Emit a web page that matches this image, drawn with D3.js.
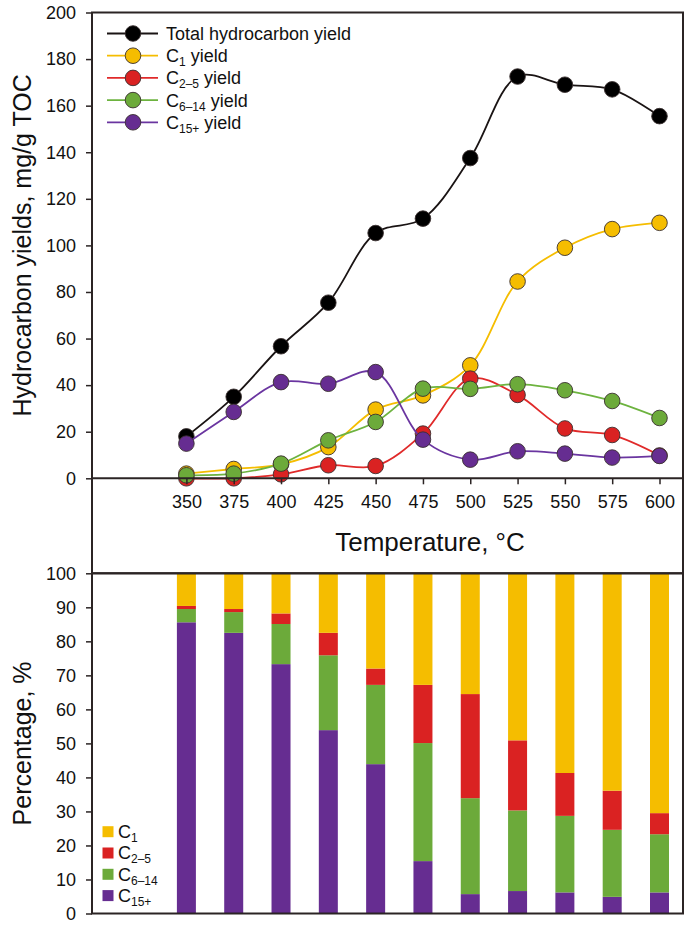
<!DOCTYPE html>
<html>
<head>
<meta charset="utf-8">
<script src="https://cdn.jsdelivr.net/npm/d3@7"></script>
<style>
  html, body { margin: 0; padding: 0; background: #fff; }
  svg { display: block; font-family: "Liberation Sans", Arial, sans-serif; }
</style>
</head>
<body>
<svg id="chart" width="685" height="927"></svg>
<script>
// ---------- DATA ----------
const temperatures = [350, 375, 400, 425, 450, 475, 500, 525, 550, 575, 600];
const yieldTicks = [0, 20, 40, 60, 80, 100, 120, 140, 160, 180, 200];
const percentTicks = [0, 10, 20, 30, 40, 50, 60, 70, 80, 90, 100];

// Yields, mg/g TOC
const totalYield = [18, 35, 56.7, 75.4, 105.3, 111.5, 137.5, 172.5, 169, 167, 155.5];
const c1Yield    = [2, 4, 6, 13.4, 29.5, 35.6, 48.5, 84.5, 99, 107, 109.7];
const c25Yield   = [0, 0, 1.7, 5.6, 5.3, 19.2, 42.8, 35.8, 21.4, 18.6, 9.8];
const c614Yield  = [1.3, 2, 6.3, 16.3, 24.2, 38.5, 38.4, 40.4, 37.8, 33.2, 25.9];
const c15Yield   = [14.9, 28.5, 41.3, 40.6, 45.6, 16.6, 8, 11.6, 10.6, 8.9, 9.6];

// Percentages, %
const c1Pct   = [9.6, 10.5, 11.8, 17.5, 28.0, 32.8, 35.5, 49.1, 58.7, 63.9, 70.5];
const c25Pct  = [0.9, 0.9, 3.1, 6.6, 4.8, 17.1, 30.6, 20.6, 12.6, 11.5, 6.2];
const c614Pct = [3.9, 6.1, 11.8, 22.0, 23.3, 34.7, 28.2, 23.7, 22.5, 19.7, 17.1];
const c15Pct  = [85.6, 82.5, 73.3, 53.9, 43.9, 15.4, 5.7, 6.6, 6.2, 4.9, 6.2];

// ---------- STYLE / LAYOUT ----------
const axisColor = "#2b2424";
const colTotal = "#000000", colC1 = "#F5BD00", colC25 = "#DA2222", colC614 = "#6CAA3A", colC15 = "#662D91";
const lineC1 = "#F5BD00", lineC25 = "#E02A2A", lineC614 = "#6DB33F", lineC15 = "#6A35A0";

const L = 92, R = 683, T = 12.5, Z = 478.3, S = 573.3, B = 913.5;

const svg = d3.select("#chart");
const x = d3.scaleLinear().domain([350, 600]).range([186.4, 659.5]);
const yTop = d3.scaleLinear().domain([0, 200]).range([Z, T]);
const yBot = d3.scaleLinear().domain([0, 100]).range([B, S]);

// ---------- BOTTOM BARS ----------
const barW = 19;
const stackKeys = ["c15", "c614", "c25", "c1"];
const stackColors = { c15: colC15, c614: colC614, c25: colC25, c1: colC1 };
const table = temperatures.map((t, i) => ({ t, c15: c15Pct[i], c614: c614Pct[i], c25: c25Pct[i], c1: c1Pct[i] }));
const stacked = d3.stack().keys(stackKeys)(table);
const gBars = svg.append("g");
stacked.forEach(layer => {
  gBars.selectAll(null).data(layer).enter().append("rect")
    .attr("x", d => x(d.data.t) - barW / 2)
    .attr("width", barW)
    .attr("y", d => yBot(Math.min(d[1], 100)))
    .attr("height", d => yBot(d[0]) - yBot(Math.min(d[1], 100)))
    .attr("fill", stackColors[layer.key]);
});

// ---------- TOP LINES ----------
const series = [
  { vals: totalYield, fill: colTotal, line: "#1a1414" },
  { vals: c1Yield, fill: colC1, line: lineC1 },
  { vals: c25Yield, fill: colC25, line: lineC25 },
  { vals: c614Yield, fill: colC614, line: lineC614 },
  { vals: c15Yield, fill: colC15, line: lineC15 }
];
const lineGen = d3.line().x(d => x(d.t)).y(d => yTop(d.v)).curve(d3.curveCatmullRom.alpha(0.5));
series.forEach(s => {
  const pts = temperatures.map((t, i) => ({ t, v: s.vals[i] }));
  svg.append("path").datum(pts).attr("d", lineGen)
    .attr("fill", "none").attr("stroke", s.line).attr("stroke-width", 1.8);
  svg.selectAll(null).data(pts).enter().append("circle")
    .attr("cx", d => x(d.t)).attr("cy", d => yTop(d.v)).attr("r", 7.8)
    .attr("fill", s.fill).attr("stroke", "#3a3030").attr("stroke-width", 0.9);
});

// ---------- AXES ----------
function styleAxis(g) {
  g.select(".domain").remove();
  g.selectAll(".tick line").attr("stroke", axisColor).attr("stroke-width", 1.5);
  g.selectAll(".tick text").attr("fill", "#111").attr("font-size", 18)
    .attr("font-family", "'Liberation Sans', Arial, sans-serif");
}
svg.append("g").attr("transform", `translate(${L},0)`)
  .call(d3.axisLeft(yTop).tickValues(yieldTicks).tickSize(6).tickPadding(10))
  .call(styleAxis);
svg.append("g").attr("transform", `translate(${L},0)`)
  .call(d3.axisLeft(yBot).tickValues(percentTicks).tickSize(6).tickPadding(10))
  .call(styleAxis);
svg.append("g").attr("transform", `translate(0,${Z})`)
  .call(d3.axisBottom(x).tickValues(temperatures).tickSize(6).tickPadding(11))
  .call(styleAxis);

// frames
const frame = svg.append("g").attr("stroke", axisColor).attr("stroke-width", 2).attr("fill", "none");
frame.append("rect").attr("x", L).attr("y", T).attr("width", R - L).attr("height", S - T);
frame.append("rect").attr("x", L).attr("y", S).attr("width", R - L).attr("height", B - S);
frame.append("line").attr("x1", L).attr("x2", R).attr("y1", Z).attr("y2", Z);

// ---------- TITLES ----------
svg.append("text").attr("transform", `translate(31,${(T + Z) / 2}) rotate(-90)`)
  .attr("text-anchor", "middle").attr("font-size", 25).attr("fill", "#111")
  .text("Hydrocarbon yields, mg/g TOC");
svg.append("text").attr("x", 430).attr("y", 551)
  .attr("text-anchor", "middle").attr("font-size", 26).attr("fill", "#111")
  .text("Temperature, °C");
svg.append("text").attr("transform", `translate(31,${(S + B) / 2}) rotate(-90)`)
  .attr("text-anchor", "middle").attr("font-size", 25).attr("fill", "#111")
  .text("Percentage, %");

// ---------- LEGENDS ----------
function labelWithSub(sel, base, sub, tail) {
  sel.append("tspan").text(base);
  if (sub) sel.append("tspan").attr("font-size", 12).attr("dy", 4).text(sub);
  if (tail) sel.append("tspan").attr("dy", -4).text(tail);
}
const topLegend = [
  { base: "Total hydrocarbon yield", sub: null, tail: null, s: series[0] },
  { base: "C", sub: "1", tail: " yield", s: series[1] },
  { base: "C", sub: "2\u20135", tail: " yield", s: series[2] },
  { base: "C", sub: "6\u201314", tail: " yield", s: series[3] },
  { base: "C", sub: "15+", tail: " yield", s: series[4] }
];
topLegend.forEach((d, i) => {
  const cy = 33.5 + i * 22.2;
  svg.append("line").attr("x1", 107).attr("x2", 158).attr("y1", cy).attr("y2", cy)
    .attr("stroke", d.s.line).attr("stroke-width", 1.8);
  svg.append("circle").attr("cx", 133).attr("cy", cy).attr("r", 7.8)
    .attr("fill", d.s.fill).attr("stroke", "#3a3030").attr("stroke-width", 0.9);
  const t = svg.append("text").attr("x", 166).attr("y", cy + 6.4).attr("font-size", 18).attr("fill", "#111");
  labelWithSub(t, d.base, d.sub, d.tail);
});

const botLegend = [
  { sub: "1", color: colC1 },
  { sub: "2\u20135", color: colC25 },
  { sub: "6\u201314", color: colC614 },
  { sub: "15+", color: colC15 }
];
botLegend.forEach((d, i) => {
  const cy = 831.7 + i * 21.3;
  svg.append("rect").attr("x", 102.5).attr("y", cy - 5.5).attr("width", 11).attr("height", 11).attr("fill", d.color);
  const t = svg.append("text").attr("x", 118).attr("y", cy + 6.4).attr("font-size", 18).attr("fill", "#111");
  labelWithSub(t, "C", d.sub, null);
});
</script>
</body>
</html>
